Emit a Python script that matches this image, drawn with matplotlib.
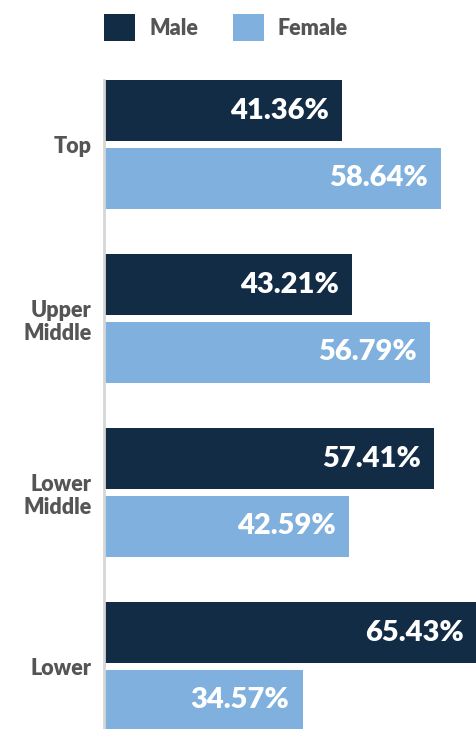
import matplotlib
matplotlib.use("Agg")
import matplotlib.pyplot as plt
import numpy as np

categories = ["Top", "Upper\nMiddle", "Lower\nMiddle", "Lower"]
male = [41.36, 43.21, 57.41, 65.43]
female = [58.64, 56.79, 42.59, 34.57]
series_names = ["Male", "Female"]

MALE_C = "#132C45"
FEMALE_C = "#7FB0DE"
TEXT_C = "#555555"

plt.rcParams['font.family'] = ['Lato', 'DejaVu Sans']

W, H = 477, 729
fig = plt.figure(figsize=(W / 100, H / 100), dpi=100)
ax = fig.add_axes([104 / W, 0, (W - 104) / W, (729 - 80) / H])

y = np.arange(len(categories))
bh = 0.35
off = 0.195
bm = ax.barh(y - off, male, height=bh, color=MALE_C, label=series_names[0])
bf = ax.barh(y + off, female, height=bh, color=FEMALE_C, label=series_names[1])

XMAX = 64.9
for bars, vals in ((bm, male), (bf, female)):
    for b, v in zip(bars, vals):
        ax.annotate(f"{v:.2f}%", xy=(min(v, XMAX), b.get_y() + b.get_height() / 2),
                    xytext=(-9.5, 0), textcoords="offset points", ha="right", va="center",
                    color="white", fontsize=21, fontweight="heavy")

ax.set_xlim(0, XMAX)
ax.set_ylim(3.359, -0.371)
ax.set_yticks(y)
ax.set_yticklabels(categories, fontsize=15.5, fontweight="heavy", color=TEXT_C,
                   linespacing=1.15)
ax.tick_params(axis="y", length=0, pad=9)
ax.set_xticks([])
for s in ("top", "right", "bottom"):
    ax.spines[s].set_visible(False)
ax.spines["left"].set_color("#d6d6d6")
ax.spines["left"].set_linewidth(2)

leg = fig.legend(handles=[bm, bf], loc="upper left",
                 bbox_to_anchor=(104 / W, 1 - 14 / H), ncol=2, frameon=False,
                 fontsize=15.5, handlelength=1.45, handleheight=1.55,
                 handletextpad=0.65, columnspacing=1.6, borderpad=0, borderaxespad=0)
for t in leg.get_texts():
    t.set_color(TEXT_C)
    t.set_fontweight("heavy")

fig.savefig("out.png", dpi=100)
